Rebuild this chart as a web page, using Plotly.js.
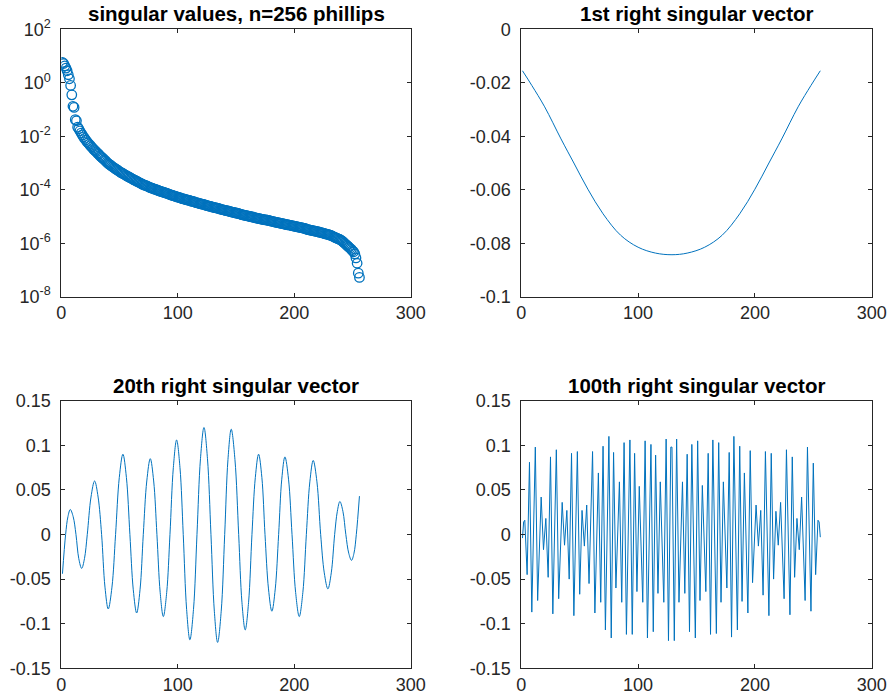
<!DOCTYPE html>
<html>
<head>
<meta charset="utf-8">
<script src="https://cdn.plot.ly/plotly-3.0.1.min.js"></script>
<style>html,body{margin:0;padding:0;background:#fff;}#chart{width:888px;height:696px;}</style>
</head>
<body>
<div id="chart"></div>
<script>
// ---- Panel 1: singular values (index 1..256) ----
var svIndex = [];
for (var k = 1; k <= 256; k++) svIndex.push(k);
var singularValues = [
5.75,5.25,4.27,3.55,2.82,2.0,1.41,0.794,0.355,0.132,
0.120,4.17e-2,3.80e-2,2.19e-2,1.91e-2,1.58e-2,1.32e-2,1.12e-2,9.55e-3,8.32e-3,
7.24e-3,6.31e-3,5.62e-3,5.01e-3,4.47e-3,3.98e-3,3.55e-3,3.16e-3,2.88e-3,2.63e-3,
2.34e-3,2.14e-3,1.91e-3,1.74e-3,1.58e-3,1.45e-3,1.32e-3,1.20e-3,1.07e-3,9.77e-4,
9.12e-4,8.51e-4,7.76e-4,7.24e-4,6.76e-4,6.31e-4,5.89e-4,5.50e-4,5.13e-4,4.79e-4,
4.47e-4,4.27e-4,3.98e-4,3.80e-4,3.55e-4,3.39e-4,3.16e-4,3.02e-4,2.82e-4,2.69e-4,
2.57e-4,2.40e-4,2.29e-4,2.19e-4,2.04e-4,1.95e-4,1.86e-4,1.78e-4,1.66e-4,1.58e-4,
1.51e-4,1.45e-4,1.41e-4,1.35e-4,1.29e-4,1.23e-4,1.17e-4,1.15e-4,1.10e-4,1.05e-4,
1.02e-4,9.77e-5,9.55e-5,9.12e-5,8.91e-5,8.51e-5,8.32e-5,7.94e-5,7.76e-5,7.41e-5,
7.24e-5,6.92e-5,6.76e-5,6.46e-5,6.31e-5,6.03e-5,5.89e-5,5.62e-5,5.50e-5,5.25e-5,
5.13e-5,5.01e-5,4.79e-5,4.68e-5,4.57e-5,4.47e-5,4.27e-5,4.17e-5,4.07e-5,3.98e-5,
3.80e-5,3.72e-5,3.63e-5,3.55e-5,3.39e-5,3.31e-5,3.24e-5,3.16e-5,3.02e-5,2.95e-5,
2.88e-5,2.82e-5,2.75e-5,2.63e-5,2.57e-5,2.51e-5,2.45e-5,2.40e-5,2.34e-5,2.24e-5,
2.19e-5,2.14e-5,2.09e-5,2.04e-5,2.00e-5,1.91e-5,1.86e-5,1.82e-5,1.78e-5,1.74e-5,
1.70e-5,1.66e-5,1.62e-5,1.58e-5,1.51e-5,1.48e-5,1.45e-5,1.41e-5,1.38e-5,1.35e-5,
1.32e-5,1.29e-5,1.26e-5,1.23e-5,1.17e-5,1.15e-5,1.12e-5,1.10e-5,1.07e-5,1.05e-5,
1.02e-5,1.00e-5,9.77e-6,9.55e-6,9.33e-6,9.12e-6,8.91e-6,8.71e-6,8.51e-6,8.32e-6,
8.13e-6,7.94e-6,7.76e-6,7.59e-6,7.50e-6,7.41e-6,7.24e-6,7.08e-6,6.92e-6,6.76e-6,
6.61e-6,6.46e-6,6.31e-6,6.17e-6,6.03e-6,5.89e-6,5.75e-6,5.62e-6,5.50e-6,5.37e-6,
5.25e-6,5.13e-6,5.01e-6,4.90e-6,4.84e-6,4.79e-6,4.68e-6,4.57e-6,4.47e-6,4.37e-6,
4.27e-6,4.17e-6,4.07e-6,3.98e-6,3.89e-6,3.80e-6,3.72e-6,3.63e-6,3.55e-6,3.47e-6,
3.31e-6,3.24e-6,3.16e-6,3.09e-6,3.02e-6,2.95e-6,2.88e-6,2.82e-6,2.75e-6,2.69e-6,
2.63e-6,2.57e-6,2.51e-6,2.45e-6,2.40e-6,2.29e-6,2.24e-6,2.19e-6,2.14e-6,2.04e-6,
2.00e-6,1.91e-6,1.82e-6,1.74e-6,1.66e-6,1.58e-6,1.51e-6,1.45e-6,1.38e-6,1.32e-6,
1.23e-6,1.12e-6,1.02e-6,9.33e-7,8.51e-7,7.76e-7,7.08e-7,6.46e-7,5.89e-7,5.25e-7,
4.79e-7,3.98e-7,2.82e-7,1.78e-7,7.59e-8,5.25e-8
];

// ---- Panel 2: 1st right singular vector ----
var v1Index = [1, 9, 20, 34, 45, 57, 70, 85, 100, 115, 129, 142, 157, 172, 187, 200, 212, 223, 237, 248, 256];
var v1Values = [-0.0155, -0.0210, -0.0290, -0.0410, -0.0500, -0.0598, -0.0690, -0.0770, -0.0815, -0.0837, -0.0843,
                -0.0837, -0.0815, -0.0770, -0.0690, -0.0598, -0.0500, -0.0410, -0.0290, -0.0210, -0.0155];

// ---- Panel 3: 20th right singular vector ----
var v20Index = [1, 3.7, 5.7, 7.7, 10.2, 12.6, 15.0, 17.5, 19.9, 22.3, 25.5, 28.6, 31.6, 34.6, 37.5, 40.3, 43.5, 46.6,
  49.8, 52.9, 55.9, 58.9, 61.8, 64.7, 67.6, 70.4, 73.4, 76.4, 79.3, 82.1, 84.9, 87.6, 90.5, 93.3, 96.2, 99.0, 101.9,
  104.7, 107.6, 110.4, 113.5, 116.5, 119.5, 122.5, 125.5, 128.5, 131.4, 134.2, 137.3, 140.3, 143.1, 145.9, 149.1,
  152.3, 155.1, 157.9, 160.8, 163.7, 166.6, 169.4, 172.2, 174.9, 177.9, 180.8, 183.7, 186.6, 189.3, 192.0, 195.1,
  198.1, 201.2, 204.3, 207.4, 210.4, 213.4, 216.3, 219.5, 222.7, 225.8, 228.9, 231.8, 234.7, 237.0, 239.2, 241.8,
  244.3, 246.8, 249.2, 251.3, 253.3, 256];
var v20Values = [-0.044, 0, 0.020, 0.028, 0.020, 0, -0.027, -0.038, -0.027, 0, 0.042, 0.060, 0.042, 0, -0.059, -0.0835, -0.059, 0,
  0.064, 0.090, 0.064, 0, -0.062, -0.088, -0.062, 0, 0.060, 0.085, 0.060, 0, -0.065, -0.092, -0.065, 0, 0.075, 0.106, 0.075,
  0, -0.084, -0.118, -0.084, 0, 0.085, 0.120, 0.085, 0, -0.086, -0.121, -0.086, 0, 0.084, 0.118, 0.084,
  0, -0.076, -0.107, -0.076, 0, 0.064, 0.090, 0.064, 0, -0.061, -0.086, -0.061, 0, 0.062, 0.087, 0.062,
  0, -0.065, -0.092, -0.065, 0, 0.059, 0.083, 0.059, 0, -0.043, -0.061, -0.043, 0, 0.026, 0.037, 0.026,
  0, -0.021, -0.029, -0.021, 0, 0.043];

// ---- Panel 4: 100th right singular vector ----
var v100Index = [1, 2, 3, 5, 7, 9, 12, 14, 17, 19, 21, 23, 25, 27, 30, 32, 35, 37, 39, 41, 43, 45, 48, 50,
  52, 54, 56, 58, 61, 63, 66, 68, 70, 72, 75, 77, 79, 81, 84, 86, 88, 90, 93, 95, 97, 99, 101, 104, 106, 108,
  111, 113, 115, 117, 119, 122, 124, 126, 128, 129, 131, 133, 135, 138, 140, 142, 144, 146, 149, 151, 153, 155,
  158, 160, 162, 164, 167, 169, 171, 173, 176, 178, 180, 182, 185, 187, 189, 191, 194, 196, 198, 201, 203, 205,
  207, 209, 212, 214, 216, 218, 220, 222, 225, 227, 230, 232, 234, 236, 238, 240, 243, 245, 248, 250, 252, 254, 255, 256];
var v100Values = [-0.004, 0.014, 0.016, -0.045, 0.081, -0.087, 0.098, -0.074, 0.042, -0.017, 0.018, -0.048, 0.087, -0.089,
  0.095, -0.072, 0.036, -0.012, 0.027, -0.050, 0.091, -0.091, 0.093, -0.067,
  0.027, -0.013, 0.033, -0.055, 0.093, -0.088, 0.069, -0.076, 0.099, -0.107, 0.110, -0.116, 0.092, -0.060, 0.059, -0.076,
  0.103, -0.112, 0.106, -0.112, 0.091, -0.064, 0.054, -0.076, 0.105, -0.116,
  0.101, -0.109, 0.089, -0.066, 0.059, -0.076, 0.107, -0.119, 0.098, 0.098, -0.119, 0.107, -0.076, 0.059, -0.066, 0.090,
  -0.109, 0.101, -0.116, 0.105, -0.074, 0.055,
  -0.064, 0.091, -0.112, 0.106, -0.111, 0.103, -0.076, 0.059, -0.060, 0.092, -0.115, 0.110, -0.107, 0.099, -0.075, 0.069,
  -0.088, 0.094, -0.054, 0.033, -0.013, 0.027,
  -0.068, 0.093, -0.091, 0.091, -0.050, 0.026, -0.012, 0.036, -0.072, 0.095, -0.090, 0.087, -0.048, 0.018, -0.017, 0.042,
  -0.074, 0.098, -0.086, 0.080, -0.045, 0.016, 0.014, -0.003];

// ---- Tick labels ----
var xTickVals = [0, 100, 200, 300];
var xTickText = ['0', '100', '200', '300'];
var logTickVals = [1e-8, 1e-6, 1e-4, 1e-2, 1, 1e2];
var logTickText = ['10<sup>-8</sup>', '10<sup>-6</sup>', '10<sup>-4</sup>', '10<sup>-2</sup>', '10<sup>0</sup>', '10<sup>2</sup>'];
var v1TickVals = [-0.1, -0.08, -0.06, -0.04, -0.02, 0];
var v1TickText = ['-0.1', '-0.08', '-0.06', '-0.04', '-0.02', '0'];
var vTickVals = [-0.15, -0.1, -0.05, 0, 0.05, 0.1, 0.15];
var vTickText = ['-0.15', '-0.1', '-0.05', '0', '0.05', '0.1', '0.15'];
var titles = ['singular values, n=256 phillips', '1st right singular vector', '20th right singular vector', '100th right singular vector'];

var BLUE = '#0072BD';
var AXC = '#262626';
var FONT = 'Liberation Sans, Arial, Helvetica, sans-serif';
var TICKSIZE = 18;

var traces = [
  {x: svIndex, y: singularValues, type: 'scatter', mode: 'markers', xaxis: 'x', yaxis: 'y',
   marker: {symbol: 'circle-open', size: 9.5, color: BLUE, line: {width: 1.3, color: BLUE}}},
  {x: v1Index, y: v1Values, type: 'scatter', mode: 'lines', xaxis: 'x2', yaxis: 'y2',
   line: {color: BLUE, width: 1, shape: 'spline'}},
  {x: v20Index, y: v20Values, type: 'scatter', mode: 'lines', xaxis: 'x3', yaxis: 'y3',
   line: {color: BLUE, width: 1, shape: 'spline'}},
  {x: v100Index, y: v100Values, type: 'scatter', mode: 'lines', xaxis: 'x4', yaxis: 'y4',
   line: {color: BLUE, width: 1}}
];

function xAxis(dom, anchor) {
  return {domain: dom, anchor: anchor, range: [0, 300], tickmode: 'array', tickvals: xTickVals, ticktext: xTickText,
    ticks: 'inside', ticklen: 4, tickcolor: AXC, tickwidth: 1, showline: true, linecolor: AXC, linewidth: 1,
    mirror: 'ticks', showgrid: false, zeroline: false, tickfont: {family: FONT, size: TICKSIZE, color: AXC},
    ticklabelstandoff: 0, fixedrange: true};
}
function yAxis(dom, anchor, range, vals, text, type) {
  var a = {domain: dom, anchor: anchor, range: range, tickmode: 'array', tickvals: vals, ticktext: text,
    ticks: 'inside', ticklen: 4, tickcolor: AXC, tickwidth: 1, showline: true, linecolor: AXC, linewidth: 1,
    mirror: 'ticks', showgrid: false, zeroline: false, tickfont: {family: FONT, size: TICKSIZE, color: AXC},
    ticklabelstandoff: 6, fixedrange: true};
  if (type) a.type = type;
  return a;
}

var colL = [61.3 / 888, 410.7 / 888];
var colR = [521.3 / 888, 871.7 / 888];
var rowT = [1 - 296.7 / 696, 1 - 29.3 / 696];
var rowB = [1 - 668.3 / 696, 1 - 400.7 / 696];

var annotations = [];
var refs = [['x', 'y'], ['x2', 'y2'], ['x3', 'y3'], ['x4', 'y4']];
for (var t = 0; t < 4; t++) {
  annotations.push({text: '<b>' + titles[t] + '</b>', xref: refs[t][0] + ' domain', yref: refs[t][1] + ' domain',
    x: 0.5, y: 1, xanchor: 'center', yanchor: 'bottom', yshift: 2, showarrow: false,
    font: {family: FONT, size: 20.5, color: '#000'}});
}

var layout = {
  width: 888, height: 696, margin: {l: 0, r: 0, t: 0, b: 0}, showlegend: false,
  paper_bgcolor: '#fff', plot_bgcolor: '#fff',
  xaxis: xAxis(colL, 'y'),
  yaxis: yAxis(rowT, 'x', [-8, 2], logTickVals, logTickText, 'log'),
  xaxis2: xAxis(colR, 'y2'),
  yaxis2: yAxis(rowT, 'x2', [-0.1, 0], v1TickVals, v1TickText),
  xaxis3: xAxis(colL, 'y3'),
  yaxis3: yAxis(rowB, 'x3', [-0.15, 0.15], vTickVals, vTickText),
  xaxis4: xAxis(colR, 'y4'),
  yaxis4: yAxis(rowB, 'x4', [-0.15, 0.15], vTickVals, vTickText),
  annotations: annotations
};

Plotly.newPlot('chart', traces, layout, {displayModeBar: false, staticPlot: true});
</script>
</body>
</html>
